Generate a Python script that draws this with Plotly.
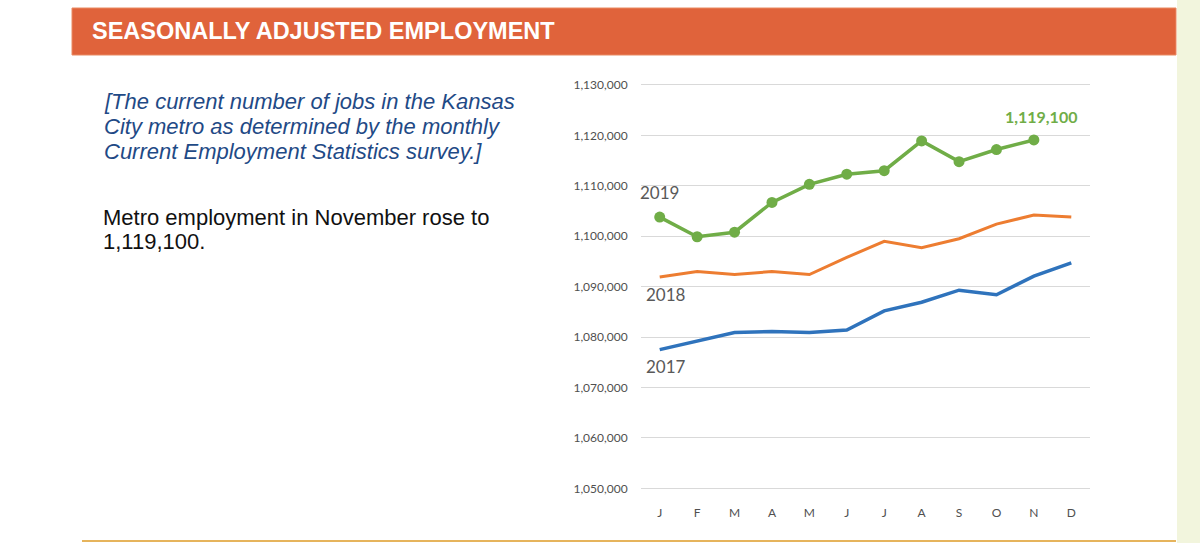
import plotly.graph_objects as go

# ---- data ----
months = ["J", "F", "M", "A", "M", "J", "J", "A", "S", "O", "N", "D"]
emp_2017 = [1077500, 1079200, 1080900, 1081100, 1080900, 1081400,
            1085200, 1086900, 1089300, 1088400, 1092100, 1094700]
emp_2018 = [1091900, 1093000, 1092400, 1093000, 1092400, 1095800,
            1099000, 1097700, 1099500, 1102400, 1104200, 1103800]
emp_2019 = [1103800, 1099900, 1100800, 1106700, 1110300, 1112300,
            1113000, 1118900, 1114800, 1117200, 1119100]
ytick_vals = [1050000, 1060000, 1070000, 1080000, 1090000, 1100000,
              1110000, 1120000, 1130000]
ytick_text = ["{:,}".format(v) for v in ytick_vals]
latest_label = "1,119,100"

W, H = 1200, 543
def px(x):
    return x / W
def py(y):
    return 1 - y / H

xs = list(range(len(months)))

fig = go.Figure()
fig.add_trace(go.Scatter(x=xs, y=emp_2017, mode="lines",
                         line=dict(color="#2F73BC", width=3.5), hoverinfo="skip"))
fig.add_trace(go.Scatter(x=xs, y=emp_2018, mode="lines",
                         line=dict(color="#ED7D31", width=3), hoverinfo="skip"))
fig.add_trace(go.Scatter(x=xs[:len(emp_2019)], y=emp_2019, mode="lines+markers",
                         line=dict(color="#70AD47", width=3.5),
                         marker=dict(color="#70AD47", size=11), hoverinfo="skip"))

shapes = [
    # header bar
    dict(type="rect", xref="paper", yref="paper", x0=px(72), x1=px(1176),
         y0=py(55), y1=py(8), fillcolor="#E0633B",
         line=dict(color="#E98A62", width=1), layer="below"),
    # right panel
    dict(type="rect", xref="paper", yref="paper", x0=px(1177), x1=1,
         y0=0, y1=1, fillcolor="#F2F5DD", line=dict(width=0), layer="below"),
    # bottom line
    dict(type="line", xref="paper", yref="paper", x0=px(82), x1=px(1176),
         y0=py(541), y1=py(541), line=dict(color="#E6B45C", width=2)),
]

annotations = [
    dict(text="<b>SEASONALLY ADJUSTED EMPLOYMENT</b>", x=px(90), y=py(31),
         xref="paper", yref="paper", xanchor="left", yanchor="middle",
         showarrow=False, font=dict(family="Liberation Sans, Arial", size=23.5, color="white")),
]
italic_lines = ["[The current number of jobs in the Kansas",
                "City metro as determined by the monthly",
                "Current Employment Statistics survey.]"]
for i, t in enumerate(italic_lines):
    annotations.append(dict(text="<i>" + t + "</i>", x=px(102), y=py(102 + 25 * i),
                            xref="paper", yref="paper", xanchor="left", yanchor="middle",
                            showarrow=False,
                            font=dict(family="Liberation Sans, Arial", size=22, color="#1F4A86")))
body_lines = ["Metro employment in November rose to", "1,119,100."]
for i, t in enumerate(body_lines):
    annotations.append(dict(text=t, x=px(101), y=py(217 + 24 * i),
                            xref="paper", yref="paper", xanchor="left", yanchor="middle",
                            showarrow=False,
                            font=dict(family="Liberation Sans, Arial", size=22, color="#111111")))

# series labels
annotations += [
    dict(text="2019", x=0, y=1108600, xref="x", yref="y", showarrow=False,
         xanchor="center", yanchor="middle",
         font=dict(family="Lato", size=17, color="#595959")),
    dict(text="2018", x=0.16, y=1088500, xref="x", yref="y", showarrow=False,
         xanchor="center", yanchor="middle",
         font=dict(family="Lato", size=17, color="#595959")),
    dict(text="2017", x=0.16, y=1074100, xref="x", yref="y", showarrow=False,
         xanchor="center", yanchor="middle",
         font=dict(family="Lato", size=17, color="#595959")),
    dict(text="<b>" + latest_label + "</b>", x=10.2, y=1123800, xref="x", yref="y",
         showarrow=False, xanchor="center", yanchor="middle",
         font=dict(family="Lato", size=16, color="#70AD47")),
]

ymin, ymax = 1048000, 1132000
top_px = 85 - 2000 * 403.3 / 80000
bot_px = 488.3 + 2000 * 403.3 / 80000

fig.update_layout(
    width=W, height=H,
    margin=dict(l=0, r=0, t=0, b=0),
    paper_bgcolor="white", plot_bgcolor="rgba(0,0,0,0)",
    showlegend=False,
    shapes=shapes, annotations=annotations,
    xaxis=dict(domain=[px(641), px(1090)], range=[-0.5, 11.5],
               tickvals=xs, ticktext=months, showgrid=False, zeroline=False,
               showline=False, ticks="outside", ticklen=3, tickcolor="rgba(0,0,0,0)",
               tickfont=dict(family="Lato", size=12, color="#505050"), fixedrange=True),
    yaxis=dict(domain=[py(bot_px), py(top_px)], range=[ymin, ymax],
               tickvals=ytick_vals, ticktext=ytick_text, showgrid=True,
               gridcolor="#D9D9D9", gridwidth=1, zeroline=False, showline=False,
               ticks="outside", ticklen=10, tickcolor="rgba(0,0,0,0)",
               tickfont=dict(family="Lato", size=12, color="#505050"), fixedrange=True),
)

fig.write_html("out.html")
